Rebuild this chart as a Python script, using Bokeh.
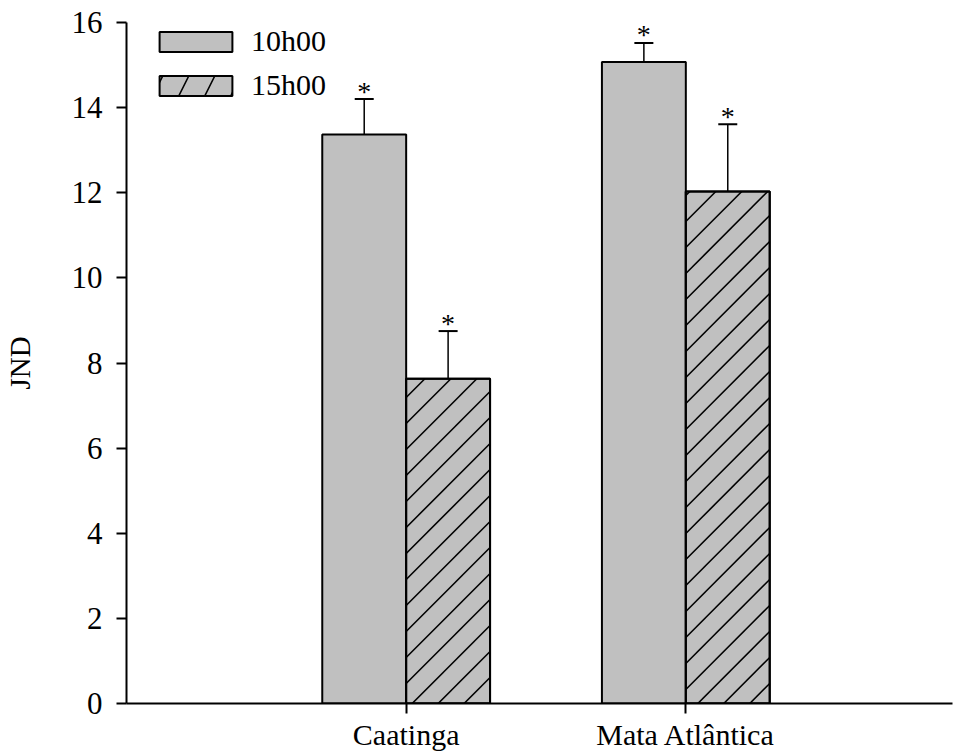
import math
from bokeh.plotting import figure
from bokeh.models import (ColumnDataSource, Whisker, TeeHead, FixedTicker, Legend,
                          LegendItem, Range1d)
from bokeh.core.properties import value
from bokeh.embed import file_html
from bokeh.resources import INLINE

categories = ["Caatinga", "Mata Atlântica"]
series = ["10h00", "15h00"]
jnd_10h = [13.37, 15.07]
jnd_15h = [7.63, 12.03]
err_10h = [0.83, 0.45]
err_15h = [1.12, 1.58]
y_ticks = [0, 2, 4, 6, 8, 10, 12, 14, 16]

FONT = "Liberation Serif"
FILL = "#c0c0c0"

cat_pos = [i + 1 for i in range(len(categories))]
bw = 0.3

src10 = ColumnDataSource(dict(
    x=[c - bw / 2 for c in cat_pos], top=jnd_10h,
    upper=[v + e for v, e in zip(jnd_10h, err_10h)],
    lower=[v - e for v, e in zip(jnd_10h, err_10h)],
    star=["*"] * len(categories)))
src15 = ColumnDataSource(dict(
    x=[c + bw / 2 for c in cat_pos], top=jnd_15h,
    upper=[v + e for v, e in zip(jnd_15h, err_15h)],
    lower=[v - e for v, e in zip(jnd_15h, err_15h)],
    star=["*"] * len(categories)))

W, H = 953, 753
L, TOP, B, R = 125, 22, 50, 1
PX_PER_CAT = 280
frame_w = W - L - R
frame_h = H - TOP - B
YMAX = 16
p = figure(width=W, height=H, output_backend="svg", toolbar_location=None,
           x_range=Range1d(0, frame_w / PX_PER_CAT), y_range=Range1d(0, YMAX),
           min_border_left=L, min_border_top=TOP, min_border_bottom=B,
           min_border_right=R)
p.outline_line_color = None
p.grid.visible = False
p.background_fill_color = "white"

r10 = p.vbar(x="x", top="top", width=bw, source=src10, fill_color=FILL,
             line_color="black", line_width=2)
r15 = p.vbar(x="x", top="top", width=bw, source=src15, fill_color=FILL,
             line_color="black", line_width=2)

# 45-degree hatching ("/") of the 15h00 bars, computed from the bar extents
sx = PX_PER_CAT          # px per x unit
sy = frame_h / YMAX      # px per y unit
T = 26                   # hatch spacing (px, horizontal)
hx, hy = [], []
for xc, top in zip(src15.data["x"], jnd_15h):
    ax, bx = (xc - bw / 2) * sx, (xc + bw / 2) * sx
    ay, by = 0.0, top * sy
    n0 = math.floor((ax - by) / T) + 1
    n1 = math.ceil((bx - ay) / T) - 1
    for n in range(n0, n1 + 1):
        d = n * T
        X0 = max(ax, ay + d)
        X1 = min(bx, by + d)
        if X1 - X0 < 0.5:
            continue
        hx.append([X0 / sx, X1 / sx])
        hy.append([(X0 - d) / sy, (X1 - d) / sy])
p.multi_line(xs=hx, ys=hy, line_color="black", line_width=1.6)
# redraw outline on top of the hatching
p.vbar(x="x", top="top", width=bw, source=src15, fill_color=None,
       line_color="black", line_width=2)

# legend-only (hidden) glyph for the hatched series
r15_leg = p.vbar(x="x", top="top", width=bw, source=src15, fill_color=FILL,
                 line_color="black", line_width=2, hatch_pattern="/",
                 hatch_color="black", hatch_weight=1.6, hatch_scale=52,
                 visible=False)

for src in (src10, src15):
    w = Whisker(base="x", upper="upper", lower="lower", source=src,
                line_color="black", line_width=1.5,
                upper_head=TeeHead(size=19, line_color="black", line_width=2),
                lower_head=TeeHead(size=19, line_color="black", line_width=2))
    p.add_layout(w)
    p.text(x="x", y="upper", text="star", source=src, text_align="center",
           text_baseline="alphabetic", y_offset=-8, text_font=value(FONT),
           text_font_size="28px", text_color="black")

# axes
p.yaxis.ticker = FixedTicker(ticks=y_ticks)
p.yaxis.minor_tick_line_color = None
p.yaxis.major_tick_out = 10
p.yaxis.major_tick_in = 0
p.yaxis.axis_line_width = 2
p.yaxis.major_tick_line_width = 2
p.yaxis.major_label_text_font = FONT
p.yaxis.major_label_text_font_size = "31px"
p.yaxis.major_label_text_color = "black"
p.yaxis.major_label_standoff = 14
p.yaxis.axis_label = "JND"
p.yaxis.axis_label_text_font = FONT
p.yaxis.axis_label_text_font_size = "29px"
p.yaxis.axis_label_text_font_style = "normal"
p.yaxis.axis_label_text_color = "black"
p.yaxis.axis_label_standoff = 33

p.xaxis.ticker = FixedTicker(ticks=cat_pos)
p.xaxis.major_label_overrides = {c: n for c, n in zip(cat_pos, categories)}
p.xaxis.minor_tick_line_color = None
p.xaxis.major_tick_out = 10
p.xaxis.major_tick_in = 0
p.xaxis.axis_line_width = 2
p.xaxis.major_tick_line_width = 2
p.xaxis.major_label_text_font = FONT
p.xaxis.major_label_text_font_size = "30px"
p.xaxis.major_label_text_color = "black"
p.xaxis.major_label_standoff = 4

legend = Legend(items=[LegendItem(label=series[0], renderers=[r10], index=0),
                       LegendItem(label=series[1], renderers=[r15_leg], index=0)],
                location=(24, frame_h - 81), margin=0, padding=0,
                border_line_color=None, background_fill_alpha=0,
                inactive_fill_alpha=0,
                glyph_width=91, glyph_height=25, label_height=36,
                label_standoff=10, label_text_font=FONT,
                label_text_font_size="30px", label_text_color="black",
                spacing=8)
p.add_layout(legend)

open("out.html", "w").write(file_html(p, INLINE))
